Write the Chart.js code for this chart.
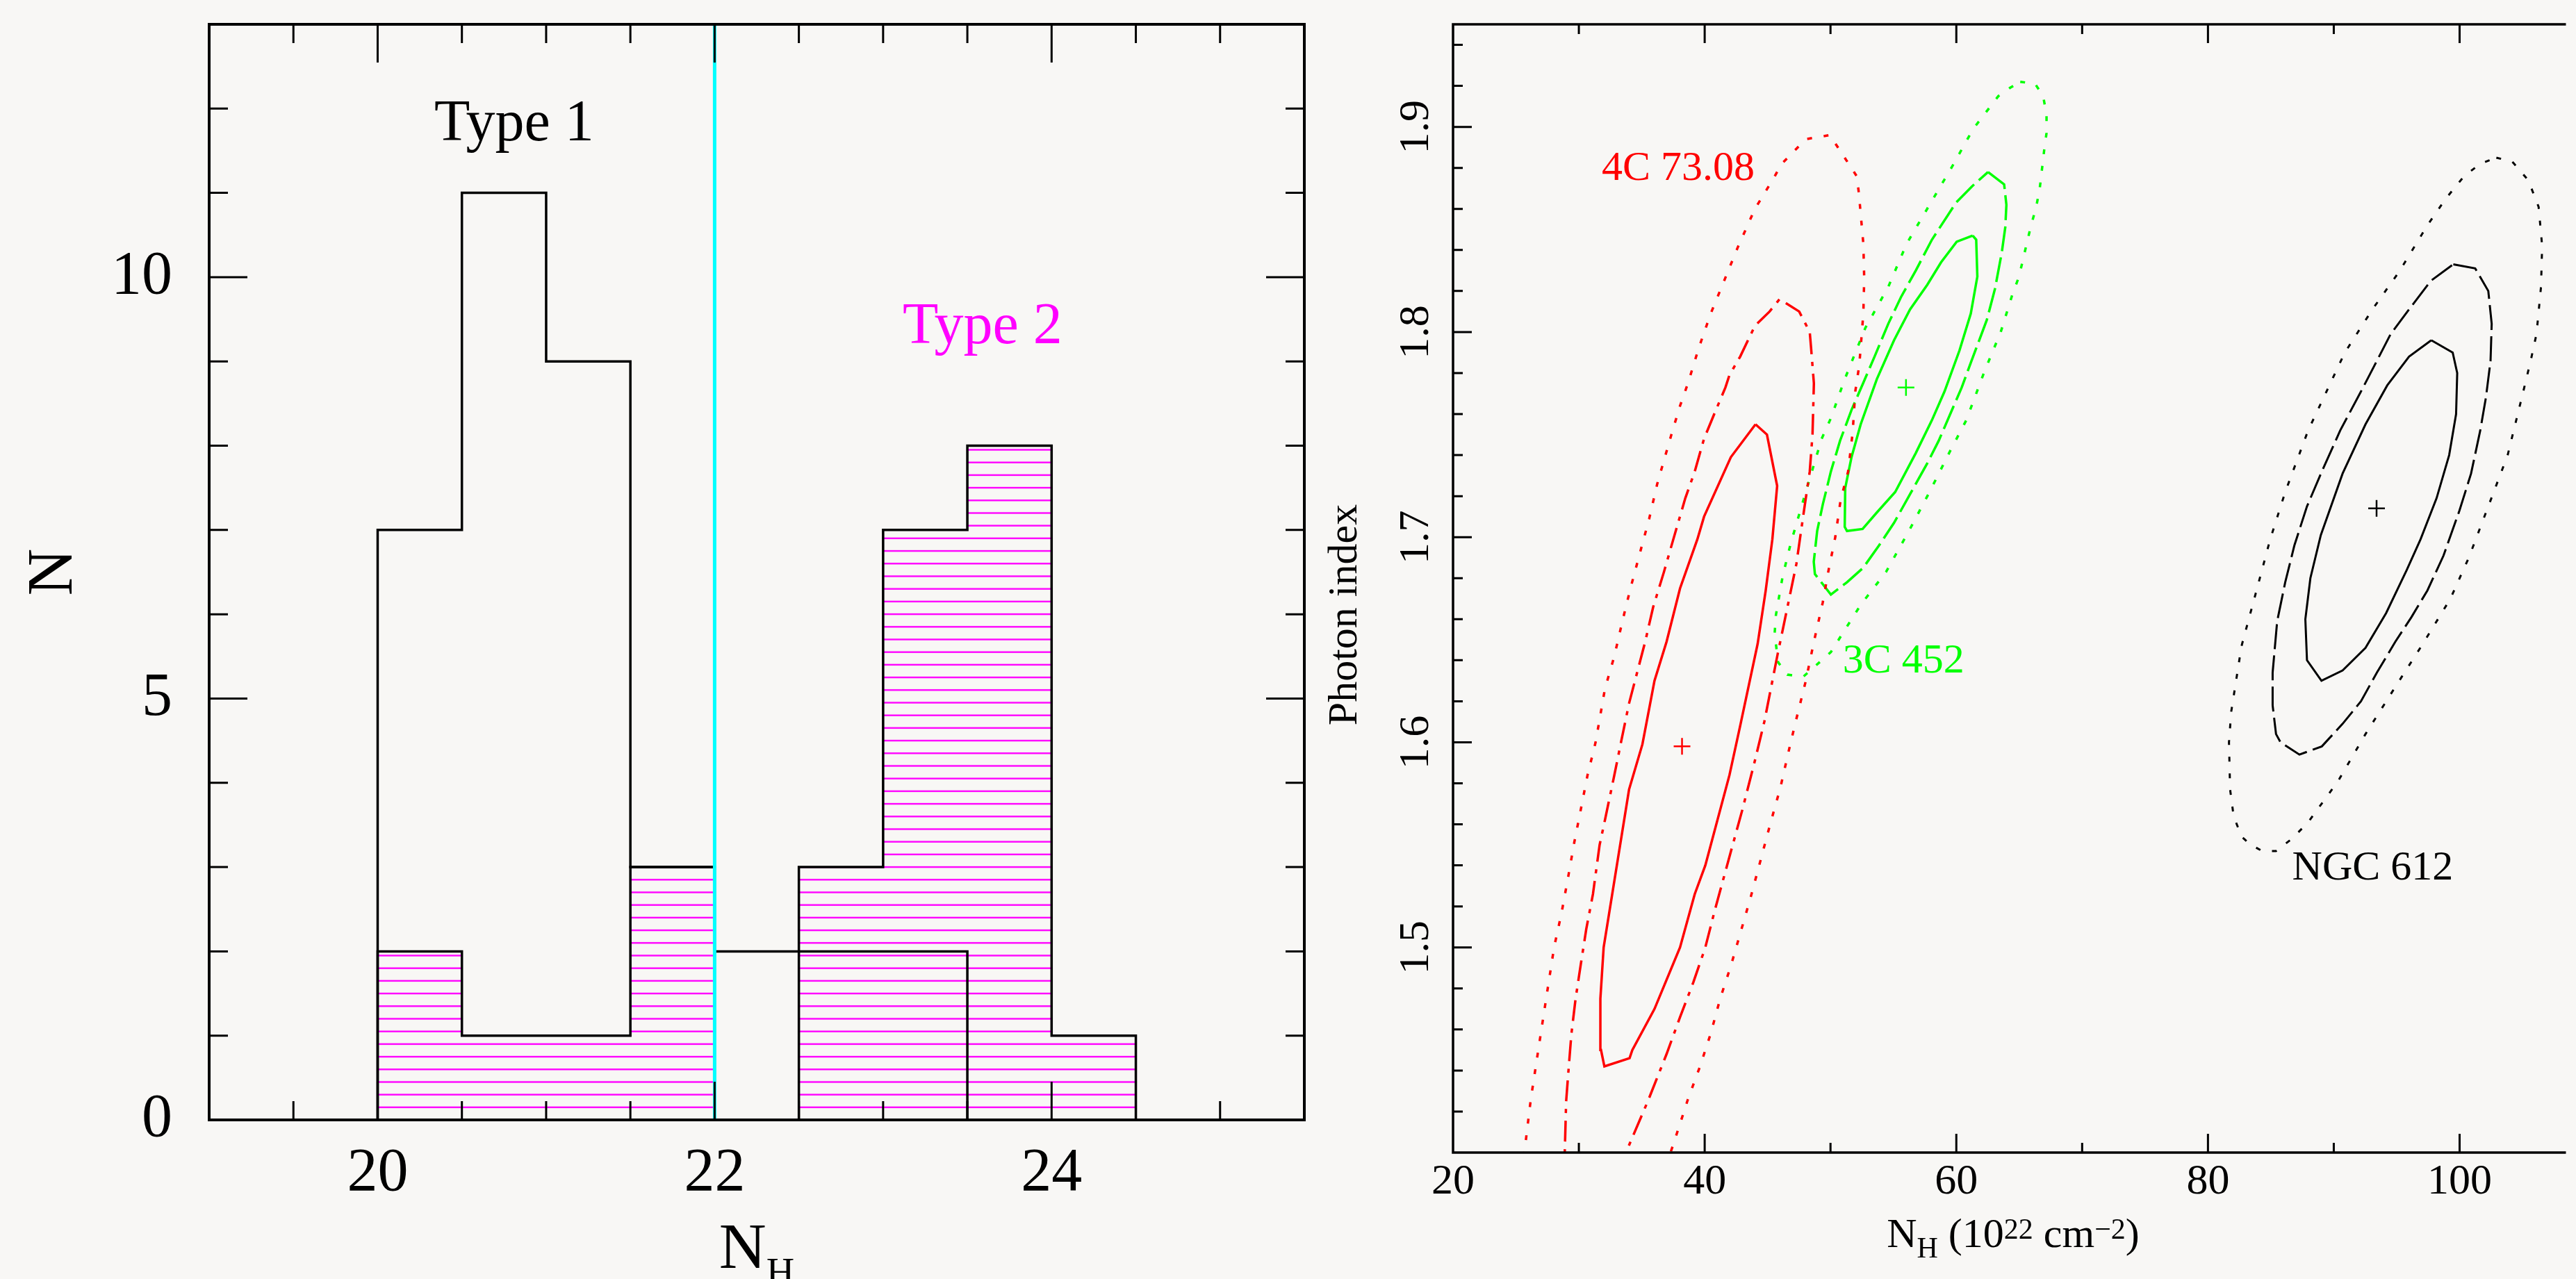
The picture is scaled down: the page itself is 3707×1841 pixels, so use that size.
<!DOCTYPE html>
<html>
<head>
<meta charset="utf-8">
<script src="https://cdn.jsdelivr.net/npm/chart.js@4.4.1/dist/chart.umd.min.js"></script>
<style>
  html, body { margin: 0; padding: 0; background: #f8f7f5; overflow: hidden; }
  #wrap { position: relative; width: 3707px; height: 1841px; }
  .panel { position: absolute; top: 0; height: 1841px; }
  #histBox { left: 0; width: 1880px; }
  #contBox { left: 1880px; width: 1827px; }
</style>
</head>
<body>
<div id="wrap">
  <div class="panel" id="histBox"><canvas id="histChart"></canvas></div>
  <div class="panel" id="contBox"><canvas id="contChart"></canvas></div>
</div>
<script>
/* ---------- left panel : N_H histogram ---------- */
const binEdges   = [20, 20.5, 21, 21.5, 22, 22.5, 23, 23.5, 24, 24.5];
const type1Count = [7, 11, 9, 3, 2, 2, 2, 0, 0];
const type2Count = [2, 1, 1, 3, 0, 3, 7, 8, 1];
const splitNH    = 22;
const histXRange = [19, 25.5];
const histYRange = [0, 13];
const histXTicks = [20, 22, 24];
const histYTicks = [0, 5, 10];
const type1Label = [20.81, 11.62];
const type2Label = [23.59, 9.22];

/* ---------- right panel : confidence contours (N_H, photon index) ---------- */
const contXRange = [20, 108.45];
const contYRange = [1.4, 1.95];
const contXTicks = [20, 40, 60, 80, 100];
const contYTicks = [1.5, 1.6, 1.7, 1.8, 1.9];

const red68 = [[44.04,1.755],[44.95,1.750],[45.76,1.725],[45.38,1.699],[44.85,1.674],[44.21,1.648],[42.82,1.608],[41.97,1.584],
  [40.05,1.540],[39.21,1.526],[38.04,1.500],[36.01,1.470],[34.25,1.450],[34.03,1.446],[32.03,1.442],[31.76,1.450],[31.71,1.475],
  [31.97,1.500],[33.99,1.577],[35.05,1.599],[36.01,1.630],[36.97,1.649],[38.04,1.675],[39.42,1.699],[39.95,1.710],[42.08,1.739],[44.04,1.755]];
const red90 = [[33.40,1.390],[33.74,1.400],[35.48,1.425],[36.97,1.448],[38.04,1.466],[39.10,1.483],[40.05,1.500],[40.80,1.518],
  [41.87,1.542],[42.99,1.567],[43.99,1.591],[44.74,1.610],[45.80,1.643],[46.65,1.668],[47.29,1.687],[47.87,1.712],[48.35,1.732],
  [48.57,1.750],[48.68,1.775],[48.46,1.792],[48.35,1.800],[47.51,1.810],[45.95,1.816],[45.16,1.810],[43.99,1.803],[42.82,1.788],
  [41.97,1.779],[41.65,1.773],[40.69,1.759],[39.95,1.748],[39.21,1.732],[38.46,1.719],[37.51,1.699],[36.76,1.683],[35.91,1.666],
  [35.27,1.649],[34.63,1.634],[33.99,1.619],[33.35,1.600],[32.82,1.584],[32.07,1.562],[31.65,1.550],[31.12,1.526],[30.59,1.509],
  [30.16,1.492],[29.74,1.475],[29.41,1.458],[29.20,1.442],[28.99,1.425],[28.88,1.400],[28.85,1.390]];
const red99 = [[25.63,1.398],[26.18,1.426],[26.80,1.451],[27.40,1.475],[28.03,1.500],[28.63,1.517],[29.14,1.534],[29.63,1.551],
  [30.05,1.564],[30.69,1.584],[31.33,1.600],[32.07,1.626],[32.82,1.642],[33.46,1.659],[34.10,1.675],[34.84,1.692],[35.59,1.709],
  [36.23,1.726],[37.40,1.751],[38.04,1.764],[38.67,1.775],[39.52,1.792],[40.48,1.809],[41.55,1.825],[42.61,1.841],[43.99,1.860],
  [45.48,1.875],[46.12,1.882],[48.04,1.894],[49.95,1.896],[50.80,1.888],[51.66,1.880],[52.08,1.876],[52.25,1.868],[52.61,1.843],
  [52.68,1.826],[52.61,1.809],[52.29,1.784],[51.97,1.771],[51.76,1.751],[51.40,1.732],[50.80,1.718],[50.38,1.700],[49.85,1.684],
  [49.38,1.668],[48.68,1.649],[48.04,1.630],[47.19,1.609],[46.65,1.595],[46.02,1.578],[45.16,1.559],[44.42,1.542],[43.68,1.525],
  [42.93,1.509],[42.08,1.491],[41.23,1.475],[40.48,1.458],[39.63,1.442],[38.67,1.426],[38.04,1.414],[37.18,1.398]];

const green68 = [[61.30,1.847],[61.58,1.845],[61.67,1.827],[61.15,1.809],[60.25,1.791],[59.06,1.771],[58.06,1.757],[56.78,1.741],
  [55.14,1.722],[53.68,1.712],[52.55,1.704],[51.31,1.703],[51.13,1.705],[51.17,1.724],[51.67,1.739],[52.40,1.755],[53.68,1.777],
  [55.05,1.796],[56.32,1.811],[57.69,1.823],[58.79,1.834],[60.03,1.844],[61.30,1.847]];
const green90 = [[62.52,1.878],[63.80,1.872],[63.98,1.862],[63.89,1.851],[63.62,1.839],[63.07,1.821],[62.43,1.806],[61.15,1.785],
  [60.43,1.773],[58.60,1.747],[57.69,1.736],[56.42,1.722],[55.05,1.707],[53.86,1.696],[52.59,1.685],[51.31,1.678],[50.03,1.672],
  [48.76,1.682],[48.67,1.688],[48.94,1.703],[49.39,1.716],[50.03,1.732],[50.76,1.747],[51.67,1.762],[52.59,1.775],[53.50,1.788],
  [54.59,1.804],[55.60,1.817],[56.78,1.830],[58.06,1.845],[59.97,1.863],[61.25,1.871],[62.52,1.878]];
const green99 = [[65.08,1.922],[66.26,1.921],[66.90,1.915],[67.17,1.906],[67.17,1.897],[66.99,1.889],[66.63,1.870],[66.35,1.861],
  [65.90,1.851],[64.98,1.827],[64.44,1.818],[63.53,1.800],[62.25,1.781],[60.79,1.757],[59.51,1.742],[57.87,1.722],[56.23,1.703],
  [54.41,1.683],[52.40,1.667],[50.03,1.644],[48.76,1.637],[47.84,1.632],[46.57,1.633],[45.84,1.639],[45.56,1.653],[45.66,1.662],
  [46.20,1.681],[46.84,1.697],[48.03,1.722],[49.30,1.748],[50.03,1.758],[51.13,1.777],[52.77,1.802],[54.59,1.822],[56.05,1.843],
  [57.87,1.862],[59.70,1.881],[61.34,1.899],[63.34,1.915],[64.26,1.919],[65.08,1.922]];

const black68 = [[97.75,1.796],[99.45,1.790],[99.81,1.780],[99.72,1.760],[99.17,1.740],[98.17,1.719],[96.90,1.699],[95.80,1.684],
  [94.16,1.663],[92.52,1.646],[90.70,1.635],[89.02,1.630],[87.87,1.640],[87.74,1.660],[88.14,1.680],[88.97,1.701],[90.70,1.731],
  [92.52,1.755],[94.25,1.774],[95.98,1.788],[97.75,1.796]];
const black90 = [[99.50,1.833],[101.24,1.831],[102.28,1.820],[102.55,1.804],[102.46,1.786],[102.09,1.768],[101.64,1.752],[100.91,1.731],
  [99.99,1.713],[98.72,1.691],[97.44,1.674],[96.17,1.661],[94.89,1.649],[93.43,1.634],[92.16,1.620],[90.70,1.609],[89.05,1.598],
  [87.27,1.594],[85.77,1.600],[85.41,1.604],[85.14,1.618],[85.14,1.634],[85.50,1.659],[86.14,1.678],[86.87,1.696],[87.87,1.715],
  [89.05,1.732],[90.51,1.752],[92.16,1.771],[93.43,1.786],[94.52,1.799],[95.98,1.811],[97.72,1.825],[99.50,1.833]];
const black99 = [[102.92,1.885],[104.19,1.883],[105.46,1.874],[106.28,1.861],[106.56,1.842],[106.47,1.822],[106.11,1.799],[105.65,1.786],
  [105.10,1.772],[103.82,1.740],[102.28,1.715],[100.73,1.690],[99.27,1.670],[97.08,1.648],[94.89,1.627],[92.52,1.604],[90.33,1.581],
  [87.96,1.561],[86.68,1.553],[85.41,1.547],[84.32,1.547],[83.40,1.550],[82.67,1.554],[82.04,1.564],[81.76,1.577],[81.67,1.600],
  [81.85,1.615],[82.67,1.647],[83.77,1.672],[84.95,1.699],[86.14,1.722],[87.96,1.752],[89.42,1.771],[90.88,1.790],[93.07,1.811],
  [95.26,1.830],[97.44,1.852],[98.90,1.865],[100.36,1.876],[101.64,1.882],[102.92,1.885]];

const redBest   = [38.2, 1.598];
const greenBest = [56.0, 1.773];
const blackBest = [93.4, 1.714];
const redName   = [37.89, 1.874];
const greenName = [55.80, 1.634];
const blackName = [93.09, 1.533];

/* ---------- styles ---------- */
const SERIF   = "'Liberation Serif', 'Times New Roman', serif";
const RED = '#ff0000', GREEN = '#00ff00', MAGENTA = '#ff00ff', CYAN = '#00ffff';
const DOT     = [7, 17];
const DASH    = [36, 9];
const DASHDOT = [30, 11, 6, 11];
const HATCH_STEP = 0.15;

const pts = arr => arr.map(p => ({ x: p[0], y: p[1] }));

// histogram outline: value of bin i is held from edge i to edge i+1
function stepPoints(edges, counts) {
  const out = [{ x: edges[0], y: 0 }];
  counts.forEach((c, i) => out.push({ x: edges[i], y: c }));
  out.push({ x: edges[edges.length - 1], y: 0 });
  return out;
}

function hatchPattern(chart) {
  const y = chart.scales && chart.scales.y;
  if (!y || !chart.chartArea) return 'rgba(0,0,0,0)';
  const period = Math.abs(y.getPixelForValue(0) - y.getPixelForValue(HATCH_STEP));
  if (!isFinite(period) || period < 3) return 'rgba(0,0,0,0)';
  const n = 10, h = Math.round(period * n);
  const c = document.createElement('canvas');
  c.width = 8; c.height = h;
  const g = c.getContext('2d');
  g.fillStyle = MAGENTA;
  for (let k = 0; k < n; k++) g.fillRect(0, (k + 0.5) * h / n - 1.2, 8, 2.4);
  const pat = chart.ctx.createPattern(c, 'repeat');
  pat.setTransform(new DOMMatrix().translateSelf(0, y.getPixelForValue(0) - 0.5 * h / n));
  return pat;
}

function minorLoop(min, max, step, fn) {
  const i0 = Math.ceil(min / step - 1e-9), i1 = Math.floor(max / step + 1e-9);
  for (let i = i0; i <= i1; i++) fn(+(i * step).toFixed(6));
}
const isMajor = (v, list) => list.some(t => Math.abs(t - v) < 1e-6);

function drawRich(ctx, parts, cx, baseY) {
  let total = 0;
  parts.forEach(p => { ctx.font = p.size + 'px ' + SERIF; p.w = ctx.measureText(p.t).width; total += p.w; });
  let xx = cx - total / 2;
  ctx.textAlign = 'left';
  ctx.textBaseline = 'alphabetic';
  parts.forEach(p => { ctx.font = p.size + 'px ' + SERIF; ctx.fillText(p.t, xx, baseY + p.dy); xx += p.w; });
}

function fixedTicks(list) { return s => { s.ticks = list.map(v => ({ value: v })); }; }

/* ---------- left chart ---------- */
const histDecor = {
  id: 'histDecor',
  afterDatasetsDraw(chart) {
    const { ctx, chartArea: a, scales: { x, y } } = chart;
    ctx.save();
    ctx.strokeStyle = '#000';
    ctx.lineWidth = 3;
    ctx.beginPath();
    minorLoop(x.min, x.max, 0.5, v => {
      if (v <= x.min || v >= x.max) return;
      const px = x.getPixelForValue(v), len = isMajor(v, histXTicks) ? 55 : 27;
      ctx.moveTo(px, a.bottom); ctx.lineTo(px, a.bottom - len);
      ctx.moveTo(px, a.top);    ctx.lineTo(px, a.top + len);
    });
    minorLoop(y.min, y.max, 1, v => {
      if (v <= y.min || v >= y.max) return;
      const py = y.getPixelForValue(v), len = isMajor(v, histYTicks) ? 55 : 27;
      ctx.moveTo(a.left, py);  ctx.lineTo(a.left + len, py);
      ctx.moveTo(a.right, py); ctx.lineTo(a.right - len, py);
    });
    ctx.stroke();
    ctx.lineWidth = 4;
    ctx.strokeRect(a.left, a.top, a.right - a.left, a.bottom - a.top);

    ctx.textAlign = 'center';
    ctx.textBaseline = 'alphabetic';
    ctx.font = '84px ' + SERIF;
    ctx.fillStyle = '#000';
    ctx.fillText('Type 1', x.getPixelForValue(type1Label[0]), y.getPixelForValue(type1Label[1]));
    ctx.fillStyle = MAGENTA;
    ctx.fillText('Type 2', x.getPixelForValue(type2Label[0]), y.getPixelForValue(type2Label[1]));

    ctx.fillStyle = '#000';
    ctx.save();
    ctx.translate(103, (a.top + a.bottom) / 2);
    ctx.rotate(-Math.PI / 2);
    ctx.font = '94px ' + SERIF;
    ctx.fillText('N', 0, 0);
    ctx.restore();
    drawRich(ctx, [{ t: 'N', size: 94, dy: 0 }, { t: 'H', size: 56, dy: 25 }], (a.left + a.right) / 2, 1825);
    ctx.restore();
  }
};

new Chart(document.getElementById('histChart'), {
  type: 'scatter',
  data: {
    datasets: [
      { label: 'split', data: [{ x: splitNH, y: histYRange[0] }, { x: splitNH, y: histYRange[1] }],
        showLine: true, borderColor: CYAN, borderWidth: 5, pointRadius: 0, clip: 0 },
      { label: 'Type 1', data: stepPoints(binEdges, type1Count), showLine: true, stepped: 'before',
        borderColor: '#000', borderWidth: 3.5, pointRadius: 0, fill: false, clip: 2 },
      { label: 'Type 2', data: stepPoints(binEdges, type2Count), showLine: true, stepped: 'before',
        borderColor: '#000', borderWidth: 3.5, pointRadius: 0, fill: 'origin',
        backgroundColor: c => hatchPattern(c.chart), clip: 2 }
    ]
  },
  options: {
    responsive: true, maintainAspectRatio: false, animation: false, devicePixelRatio: 1, events: [],
    layout: { padding: { left: 0, top: 35, right: 3, bottom: 0 } },
    plugins: { legend: { display: false }, tooltip: { enabled: false } },
    scales: {
      x: { type: 'linear', min: histXRange[0], max: histXRange[1],
        afterBuildTicks: fixedTicks(histXTicks),
        afterFit: s => { s.height = 229; s.paddingLeft = 0; s.paddingRight = 0; },
        grid: { display: false, drawTicks: false }, border: { display: false },
        ticks: { color: '#000', font: { family: SERIF, size: 88 }, padding: 25, maxRotation: 0, autoSkip: false } },
      y: { type: 'linear', min: histYRange[0], max: histYRange[1],
        afterBuildTicks: fixedTicks(histYTicks),
        afterFit: s => { s.width = 301; s.paddingTop = 0; s.paddingBottom = 0; },
        grid: { display: false, drawTicks: false }, border: { display: false },
        ticks: { color: '#000', font: { family: SERIF, size: 88 }, padding: 53, autoSkip: false } }
    }
  },
  plugins: [histDecor]
});

/* ---------- right chart ---------- */
const contDecor = {
  id: 'contDecor',
  afterDatasetsDraw(chart) {
    const { ctx, chartArea: a, scales: { x, y } } = chart;
    ctx.save();
    ctx.strokeStyle = '#000';
    ctx.lineWidth = 3;
    ctx.beginPath();
    minorLoop(x.min, x.max, 10, v => {
      if (v <= x.min || v >= x.max) return;
      const px = x.getPixelForValue(v), len = isMajor(v, contXTicks) ? 27 : 14;
      ctx.moveTo(px, a.bottom); ctx.lineTo(px, a.bottom - len);
      ctx.moveTo(px, a.top);    ctx.lineTo(px, a.top + len);
    });
    minorLoop(y.min, y.max, 0.02, v => {
      if (v <= y.min || v >= y.max) return;
      const py = y.getPixelForValue(v), len = isMajor(v, contYTicks) ? 27 : 14;
      ctx.moveTo(a.left, py); ctx.lineTo(a.left + len, py);
    });
    ctx.stroke();
    ctx.lineWidth = 3.5;
    ctx.beginPath();
    ctx.moveTo(a.right, a.top); ctx.lineTo(a.left, a.top);
    ctx.lineTo(a.left, a.bottom); ctx.lineTo(a.right, a.bottom);
    ctx.stroke();

    ctx.fillStyle = '#000';
    ctx.textAlign = 'center';
    ctx.textBaseline = 'alphabetic';
    ctx.font = '62px ' + SERIF;
    contYTicks.forEach(v => {
      ctx.save();
      ctx.translate(175, y.getPixelForValue(v));
      ctx.rotate(-Math.PI / 2);
      ctx.fillText(String(v), 0, 0);
      ctx.restore();
    });
    ctx.save();
    ctx.translate(72, 885);
    ctx.rotate(-Math.PI / 2);
    ctx.font = '60px ' + SERIF;
    ctx.fillText('Photon index', 0, 0);
    ctx.restore();

    drawRich(ctx, [
      { t: 'N', size: 60, dy: 0 }, { t: 'H', size: 42, dy: 15 }, { t: ' (10', size: 60, dy: 0 },
      { t: '22', size: 42, dy: -12 }, { t: ' cm', size: 60, dy: 0 }, { t: '\u22122', size: 42, dy: -12 },
      { t: ')', size: 60, dy: 0 }
    ], 1017, 1795);

    ctx.textAlign = 'center';
    ctx.font = '60px ' + SERIF;
    [[redName, '4C 73.08', RED], [greenName, '3C 452', GREEN], [blackName, 'NGC 612', '#000']].forEach(([p, t, c]) => {
      ctx.fillStyle = c;
      ctx.fillText(t, x.getPixelForValue(p[0]), y.getPixelForValue(p[1]));
    });
    ctx.restore();
  }
};

function contour(data, color, dash, width) {
  return { data: pts(data), showLine: true, borderColor: color, borderWidth: width, borderDash: dash,
    pointRadius: 0, fill: false, tension: 0, clip: 0 };
}
function bestFit(p, color) {
  return { data: pts([p]), showLine: false, pointStyle: 'cross', pointRadius: 12, borderWidth: 2.5,
    borderColor: color, backgroundColor: color };
}

new Chart(document.getElementById('contChart'), {
  type: 'scatter',
  data: {
    datasets: [
      bestFit(redBest, RED), bestFit(greenBest, GREEN), bestFit(blackBest, '#000'),
      contour(red68, RED, [], 3.5), contour(red90, RED, DASHDOT, 3.5), contour(red99, RED, DOT, 3.5),
      contour(green68, GREEN, [], 3.5), contour(green90, GREEN, DASH, 3.5), contour(green99, GREEN, DOT, 3.5),
      contour(black68, '#000', [], 3), contour(black90, '#000', DASH, 3), contour(black99, '#000', DOT, 3)
    ]
  },
  options: {
    responsive: true, maintainAspectRatio: false, animation: false, devicePixelRatio: 1, events: [],
    layout: { padding: { left: 0, top: 35, right: 0, bottom: 0 } },
    plugins: { legend: { display: false }, tooltip: { enabled: false } },
    scales: {
      x: { type: 'linear', min: contXRange[0], max: contXRange[1],
        afterBuildTicks: fixedTicks(contXTicks),
        afterFit: s => { s.height = 182; s.paddingLeft = 0; s.paddingRight = 0; },
        grid: { display: false, drawTicks: false }, border: { display: false },
        ticks: { color: '#000', font: { family: SERIF, size: 62 }, padding: 6, maxRotation: 0, autoSkip: false } },
      y: { type: 'linear', min: contYRange[0], max: contYRange[1],
        afterBuildTicks: fixedTicks(contYTicks),
        afterFit: s => { s.width = 211; s.paddingTop = 0; s.paddingBottom = 0; },
        grid: { display: false, drawTicks: false }, border: { display: false },
        ticks: { display: false } }
    }
  },
  plugins: [contDecor]
});
</script>
</body>
</html>
